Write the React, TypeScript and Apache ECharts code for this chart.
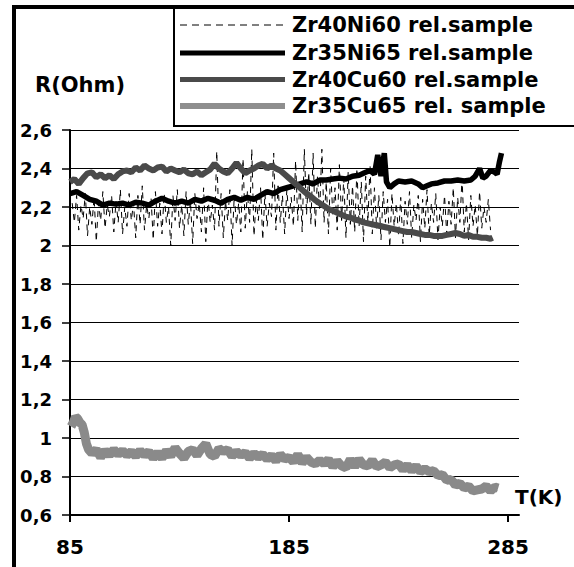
import React, { useEffect, useRef } from 'react';
import * as echarts from 'echarts';

const seriesNames = ['Zr40Ni60 rel.sample', 'Zr35Ni65 rel.sample', 'Zr40Cu60 rel.sample', 'Zr35Cu65 rel. sample'];
const yTickLabels = ['0,6', '0,8', '1', '1,2', '1,4', '1,6', '1,8', '2', '2,2', '2,4', '2,6'];
const xTickValues = [85, 185, 285];

const ni60T = [
  86, 87, 88, 89, 90, 91, 92, 93, 94, 95,
  96, 97, 98, 99, 100, 101, 102, 103, 104, 105,
  106, 107, 108, 109, 110, 111, 112, 113, 114, 115,
  116, 117, 118, 119, 120, 121, 122, 123, 124, 125,
  126, 127, 128, 129, 130, 131, 132, 133, 134, 135,
  136, 137, 138, 139, 140, 141, 142, 143, 144, 145,
  146, 147, 148, 149, 150, 151, 152, 153, 154, 155,
  156, 157, 158, 159, 160, 161, 162, 163, 164, 165,
  166, 167, 168, 169, 170, 171, 172, 173, 174, 175,
  176, 177, 178, 179, 180, 181, 182, 183, 184, 185,
  186, 187, 188, 189, 190, 191, 192, 193, 194, 195,
  196, 197, 198, 199, 200, 201, 202, 203, 204, 205,
  206, 207, 208, 209, 210, 211, 212, 213, 214, 215,
  216, 217, 218, 219, 220, 221, 222, 223, 224, 225,
  226, 227, 228, 229, 230, 231, 232, 233, 234, 235,
  236, 237, 238, 239, 240, 241, 242, 243, 244, 245,
  246, 247, 248, 249, 250, 251, 252, 253, 254, 255,
  256, 257, 258, 259, 260, 261, 262, 263, 264, 265,
  266, 267, 268, 269, 270, 271, 272, 273, 274, 275,
  276, 277,
];
const ni60R = [
  2.22, 2.12, 2.26, 2.08, 2.21, 2.14, 2.27, 2.05, 2.20, 2.11,
  2.25, 2.02, 2.22, 2.13, 2.28, 2.09, 2.21, 2.15, 2.26, 2.07,
  2.23, 2.12, 2.29, 2.06, 2.20, 2.10, 2.27, 2.13, 2.22, 2.04,
  2.26, 2.11, 2.31, 2.08, 2.21, 2.14, 2.25, 2.03, 2.28, 2.10,
  2.22, 2.06, 2.27, 2.12, 2.20, 2.00, 2.26, 2.13, 2.29, 2.09,
  2.21, 2.05, 2.28, 2.11, 2.23, 2.01, 2.27, 2.14, 2.22, 2.07,
  2.30, 2.02, 2.25, 2.12, 2.21, 2.08, 2.49, 2.10, 2.27, 2.04,
  2.23, 2.13, 2.29, 2.00, 2.26, 2.11, 2.22, 2.07, 2.45, 2.09,
  2.28, 2.12, 2.50, 2.05, 2.24, 2.13, 2.30, 2.03, 2.27, 2.10,
  2.22, 2.15, 2.48, 2.08, 2.31, 2.12, 2.26, 2.06, 2.29, 2.14,
  2.25, 2.10, 2.44, 2.13, 2.34, 2.07, 2.50, 2.16, 2.38, 2.11,
  2.48, 2.09, 2.36, 2.18, 2.50, 2.12, 2.33, 2.06, 2.40, 2.15,
  2.30, 2.08, 2.42, 2.13, 2.35, 2.04, 2.38, 2.11, 2.31, 2.07,
  2.40, 2.10, 2.33, 2.02, 2.36, 2.12, 2.42, 2.06, 2.30, 2.09,
  2.26, 2.03, 2.28, 2.12, 2.24, 1.99, 2.27, 2.10, 2.22, 2.05,
  2.25, 2.01, 2.23, 2.11, 2.28, 2.04, 2.21, 2.13, 2.26, 2.02,
  2.24, 2.09, 2.29, 2.05, 2.22, 2.12, 2.27, 2.03, 2.20, 2.10,
  2.26, 2.06, 2.23, 2.11, 2.30, 2.04, 2.25, 2.12, 2.35, 2.07,
  2.22, 2.03, 2.26, 2.10, 2.21, 2.05, 2.28, 2.09, 2.20, 2.12,
  2.24, 2.08,
];

const ni65T = [85, 88, 91, 94, 97, 100, 103, 106, 109, 112, 115, 118, 121, 124, 127, 130, 133, 136, 139, 142, 145, 148, 151, 154, 157, 160, 163, 166, 169, 172, 175, 178, 181, 184, 187, 190, 193, 196, 199, 202, 205, 208, 211, 214, 217, 220, 222, 224, 225.5, 227, 228.5, 229.5, 231, 233, 235, 238, 241, 244, 246, 248, 250, 253, 256, 259, 262, 265, 268, 270, 272, 273.5, 275, 277, 279, 280, 281, 282];
const ni65R = [2.27, 2.28, 2.26, 2.24, 2.23, 2.21, 2.22, 2.215, 2.22, 2.21, 2.225, 2.22, 2.21, 2.23, 2.245, 2.23, 2.22, 2.23, 2.22, 2.24, 2.23, 2.245, 2.235, 2.22, 2.24, 2.25, 2.235, 2.25, 2.24, 2.26, 2.28, 2.27, 2.29, 2.30, 2.31, 2.32, 2.33, 2.32, 2.34, 2.34, 2.345, 2.35, 2.345, 2.36, 2.365, 2.38, 2.39, 2.37, 2.47, 2.36, 2.48, 2.33, 2.30, 2.32, 2.335, 2.33, 2.335, 2.32, 2.30, 2.31, 2.32, 2.325, 2.335, 2.335, 2.34, 2.335, 2.34, 2.36, 2.40, 2.35, 2.36, 2.39, 2.38, 2.37, 2.43, 2.48];

const cu60T = [85, 87, 89, 91, 93, 95, 97, 99, 101, 103, 105, 107, 109, 111, 113, 115, 117, 119, 121, 123, 125, 127, 129, 131, 133, 135, 137, 139, 141, 143, 145, 147, 149, 151, 153, 155, 157, 159, 161, 163, 165, 167, 169, 171, 173, 175, 177, 179, 181, 183, 185, 187, 189, 191, 193, 195, 197, 199, 201, 203, 205, 207, 209, 211, 213, 215, 217, 219, 221, 223, 225, 227, 229, 231, 233, 235, 237, 239, 241, 243, 245, 247, 249, 251, 253, 255, 257, 259, 261, 263, 265, 267, 269, 271, 273, 275, 277, 278];
const cu60R = [2.33, 2.345, 2.32, 2.35, 2.375, 2.38, 2.355, 2.37, 2.35, 2.365, 2.345, 2.37, 2.385, 2.39, 2.38, 2.405, 2.39, 2.415, 2.40, 2.39, 2.405, 2.41, 2.385, 2.40, 2.39, 2.38, 2.395, 2.375, 2.37, 2.385, 2.365, 2.38, 2.395, 2.425, 2.40, 2.385, 2.375, 2.40, 2.43, 2.40, 2.375, 2.39, 2.40, 2.415, 2.425, 2.40, 2.415, 2.40, 2.39, 2.37, 2.35, 2.33, 2.31, 2.29, 2.27, 2.255, 2.235, 2.22, 2.205, 2.19, 2.18, 2.17, 2.16, 2.15, 2.145, 2.135, 2.13, 2.12, 2.115, 2.11, 2.105, 2.10, 2.095, 2.09, 2.085, 2.08, 2.075, 2.07, 2.07, 2.065, 2.06, 2.055, 2.055, 2.05, 2.05, 2.05, 2.055, 2.06, 2.065, 2.06, 2.05, 2.055, 2.045, 2.045, 2.04, 2.04, 2.035, 2.04];

const cu65T = [85.5, 86.5, 87.5, 88.5, 89.5, 90.5, 91.5, 92.5, 93.5, 95, 97, 99, 101, 103, 105, 107, 109, 111, 113, 115, 117, 119, 121, 123, 125, 127, 129, 131, 133, 135, 137, 139, 141, 143, 145, 147, 149, 151, 153, 155, 157, 159, 161, 163, 165, 167, 169, 171, 173, 175, 177, 179, 181, 183, 185, 187, 189, 191, 193, 195, 197, 199, 201, 203, 205, 207, 209, 211, 213, 215, 217, 219, 221, 223, 225, 227, 229, 231, 233, 235, 237, 239, 241, 243, 245, 247, 249, 251, 253, 255, 257, 259, 261, 263, 265, 267, 269, 271, 273, 275, 277, 279, 280.5];
const cu65R = [1.06, 1.08, 1.11, 1.10, 1.08, 1.07, 1.03, 0.97, 0.94, 0.92, 0.94, 0.90, 0.935, 0.91, 0.94, 0.915, 0.935, 0.91, 0.93, 0.905, 0.935, 0.91, 0.93, 0.895, 0.925, 0.895, 0.935, 0.905, 0.95, 0.92, 0.895, 0.93, 0.94, 0.91, 0.945, 0.97, 0.915, 0.905, 0.945, 0.93, 0.94, 0.905, 0.93, 0.91, 0.925, 0.895, 0.92, 0.90, 0.915, 0.89, 0.91, 0.88, 0.915, 0.89, 0.90, 0.875, 0.915, 0.87, 0.90, 0.875, 0.865, 0.885, 0.865, 0.89, 0.85, 0.88, 0.855, 0.845, 0.89, 0.85, 0.89, 0.86, 0.855, 0.885, 0.85, 0.86, 0.875, 0.845, 0.86, 0.865, 0.835, 0.86, 0.83, 0.855, 0.825, 0.84, 0.825, 0.83, 0.805, 0.81, 0.78, 0.785, 0.755, 0.765, 0.74, 0.75, 0.725, 0.73, 0.735, 0.75, 0.725, 0.745, 0.74];

const FONT = 'DejaVu Sans';
const pair = (t: number[], r: number[]) => t.map((x, i) => [x, r[i]]);

export default function App() {
  const ref = useRef<HTMLDivElement>(null);
  useEffect(() => {
    const chart = echarts.init(ref.current!, null, { renderer: 'svg' });
    const legendRows = [25, 53, 79.5, 106];
    const legendStyles = [
      { stroke: '#000', lineWidth: 1, lineDash: [7, 5] },
      { stroke: '#000', lineWidth: 5 },
      { stroke: '#4a4a4a', lineWidth: 5 },
      { stroke: '#8e8e8e', lineWidth: 6 },
    ];
    const graphic: any[] = [
      { type: 'line', silent: true, shape: { x1: 14, y1: 5, x2: 14, y2: 567 }, style: { stroke: '#000', lineWidth: 4 } },
      { type: 'line', silent: true, shape: { x1: 12, y1: 7, x2: 574, y2: 7 }, style: { stroke: '#000', lineWidth: 4 } },
      { type: 'line', silent: true, shape: { x1: 174, y1: 7, x2: 174, y2: 127 }, style: { stroke: '#000', lineWidth: 2 } },
      { type: 'line', silent: true, shape: { x1: 173, y1: 126, x2: 574, y2: 126 }, style: { stroke: '#000', lineWidth: 2 } },
      { type: 'text', silent: true, x: 35, y: 85, style: { text: 'R(Ohm)', font: `bold 21px "${FONT}"`, fill: '#000', verticalAlign: 'middle' } },
      { type: 'text', silent: true, x: 515, y: 497, style: { text: 'T(K)', font: `bold 20px "${FONT}"`, fill: '#000', verticalAlign: 'middle' } },
    ];
    seriesNames.forEach((name, i) => {
      graphic.push({ type: 'line', silent: true, shape: { x1: 180, y1: legendRows[i], x2: 285, y2: legendRows[i] }, style: legendStyles[i] });
      graphic.push({ type: 'text', silent: true, x: 292, y: legendRows[i], style: { text: name, font: `bold 21px "${FONT}"`, fill: '#000', verticalAlign: 'middle' } });
    });

    chart.setOption({
      animation: false,
      backgroundColor: '#fff',
      grid: { left: 70, right: 55, top: 130, bottom: 52, containLabel: false },
      xAxis: {
        type: 'value', min: 85, max: 290,
        axisLine: { show: true, onZero: false, lineStyle: { color: '#000', width: 2 } },
        axisTick: { show: true, length: 7, customValues: xTickValues, lineStyle: { color: '#000', width: 2 } },
        axisLabel: { customValues: xTickValues, margin: 22, color: '#000', fontFamily: FONT, fontWeight: 'bold', fontSize: 20 },
        splitLine: { show: false },
      },
      yAxis: {
        type: 'value', min: 0.6, max: 2.6, interval: 0.2,
        axisLine: { show: true, lineStyle: { color: '#000', width: 2 } },
        axisTick: { show: true, length: 8, lineStyle: { color: '#000', width: 1.5 } },
        axisLabel: {
          margin: 18, color: '#000', fontFamily: FONT, fontWeight: 'bold', fontSize: 18,
          formatter: (v: number) => { const idx = Math.round((v - 0.6) / 0.2); return yTickLabels[idx] ?? ''; },
        },
        splitLine: { show: true, lineStyle: { color: '#000', width: 1 } },
      },
      series: [
        { name: seriesNames[0], type: 'line', data: pair(ni60T, ni60R), showSymbol: false, symbol: 'none', lineStyle: { color: '#000', width: 1, type: [6, 5] }, z: 2 },
        { name: seriesNames[1], type: 'line', data: pair(ni65T, ni65R), showSymbol: false, symbol: 'none', lineStyle: { color: '#000', width: 5.5 }, z: 3 },
        { name: seriesNames[2], type: 'line', data: pair(cu60T, cu60R), showSymbol: false, symbol: 'none', lineStyle: { color: '#4a4a4a', width: 6 }, z: 4 },
        { name: seriesNames[3], type: 'line', data: pair(cu65T, cu65R), showSymbol: false, symbol: 'none', lineStyle: { color: '#8a8a8a', width: 9 }, z: 5 },
      ],
      graphic,
    });
    return () => chart.dispose();
  }, []);
  return <div ref={ref} style={{ position: 'absolute', left: 0, top: 0, width: 574, height: 567, background: '#fff' }} />;
}
